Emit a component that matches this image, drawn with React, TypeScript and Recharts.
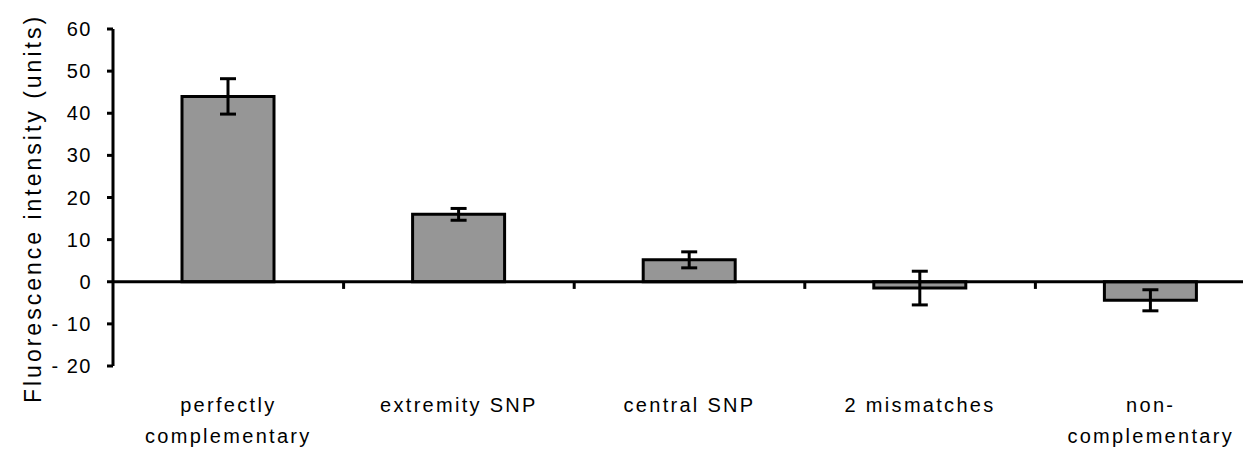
import { Bar, BarChart, ErrorBar, ReferenceLine, XAxis, YAxis } from "recharts"

const categories = [
  "perfectly\ncomplementary",
  "extremity SNP",
  "central SNP",
  "2 mismatches",
  "non-\ncomplementary",
]
const intensity = [44, 16, 5.2, -1.5, -4.4]
const errors = [4.2, 1.4, 1.9, 4, 2.5]
const yTicks = [-20, -10, 0, 10, 20, 30, 40, 50, 60]
const boundaries = [1, 2, 3, 4]

const FONT = "'Liberation Sans', Arial, sans-serif"

const data = categories.map((name, i) => ({
  name,
  pos: i + 0.5,
  value: intensity[i],
  err: errors[i],
}))

const CategoryTick = ({ x, y, payload }: any) => {
  const lines = String(payload.value).split("\n")
  return (
    <text
      x={x}
      y={y}
      textAnchor="middle"
      fontFamily={FONT}
      fontSize={20}
      letterSpacing={2.3}
      fill="#000"
    >
      {lines.map((line, i) => (
        <tspan key={i} x={x} dy={i === 0 ? 38 : 31}>
          {line}
        </tspan>
      ))}
    </text>
  )
}

const YLabel = ({ viewBox }: any) => {
  const cx = viewBox.x + 25
  const cy = viewBox.y + viewBox.height / 2 + 11
  return (
    <text
      transform={`translate(${cx},${cy}) rotate(-90)`}
      textAnchor="middle"
      dominantBaseline="central"
      fontFamily={FONT}
      fontSize={23}
      letterSpacing={3}
      fill="#000"
    >
      Fluorescence intensity (units)
    </text>
  )
}

export default function App() {
  return (
    <div style={{ width: 1243, height: 444, overflow: "hidden" }}>
      <BarChart
        width={1258}
        height={444}
        data={data}
        margin={{ top: 21, right: 0, left: 0, bottom: 0 }}
        barSize={92}
      >
        <XAxis
          dataKey="name"
          axisLine={false}
          tickLine={false}
          interval={0}
          height={86}
          tick={<CategoryTick />}
        />
        <XAxis
          xAxisId="bounds"
          dataKey="pos"
          type="number"
          domain={[0, categories.length]}
          allowDataOverflow
          hide
        />
        <YAxis
          width={105}
          domain={[-20, 60]}
          ticks={yTicks}
          interval={0}
          axisLine={{ stroke: "#000", strokeWidth: 3 }}
          tickLine={{ stroke: "#000", strokeWidth: 3 }}
          tickSize={6}
          tickMargin={15}
          tick={{ fill: "#000", fontFamily: FONT, fontSize: 20, letterSpacing: 1.5 }}
          tickFormatter={(v: number) => (v < 0 ? `- ${Math.abs(v)}` : `${v}`)}
          label={<YLabel />}
        />
        <ReferenceLine y={0} stroke="#000" strokeWidth={3} />
        {boundaries.map((b) => (
          <ReferenceLine
            key={b}
            xAxisId="bounds"
            segment={[
              { x: b, y: 0 },
              { x: b, y: -1.7 },
            ]}
            stroke="#000"
            strokeWidth={3}
          />
        ))}
        <Bar
          dataKey="value"
          fill="#969696"
          stroke="#000"
          strokeWidth={3}
          isAnimationActive={false}
        >
          <ErrorBar
            dataKey="err"
            width={8}
            stroke="#000"
            strokeWidth={3}
            isAnimationActive={false}
          />
        </Bar>
      </BarChart>
    </div>
  )
}
